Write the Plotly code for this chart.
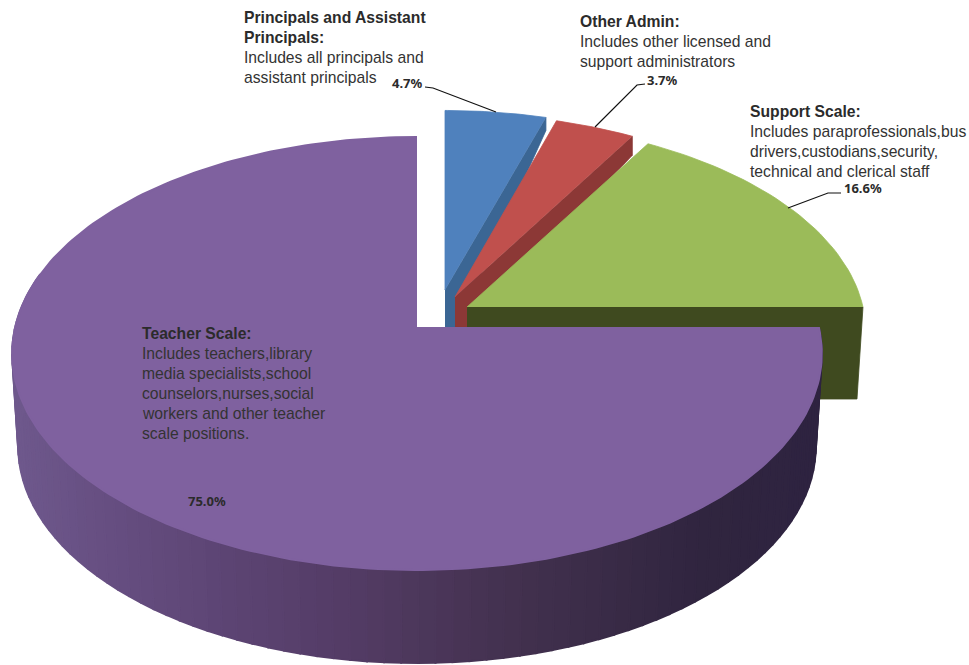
import numpy as np
import plotly.graph_objects as go

categories = ["Principals and Assistant Principals", "Other Admin", "Support Scale", "Teacher Scale"]
shares = [4.7, 3.7, 16.6, 75.0]
share_labels = ["4.7%", "3.7%", "16.6%", "75.0%"]
top_colors = ["#4f81bd", "#c0504d", "#9bbb59", "#7f619f"]
wall_colors = ["#3b6694", "#8c3836", "#3f4a1f", "#2e2440"]

# text blocks: (x, y of first line centre, bold lines, plain lines)
text_blocks = [
    (244, 17, ["Principals and Assistant", "Principals:"], ["Includes all principals and", "assistant principals"]),
    (580, 21, ["Other Admin:"], ["Includes other licensed and", "support administrators"]),
    (750, 111, ["Support Scale:"], ["Includes paraprofessionals,bus", "drivers,custodians,security,", "technical and clerical staff"]),
    (142, 333, ["Teacher Scale:"], ["Includes teachers,library", "media specialists,school", "counselors,nurses,social", "workers and other teacher", "scale positions."]),
]
label_pos = [(407, 83), (662, 80), (863, 188), (207, 501)]
leaders = [
    ([425, 433, 496], [87, 88, 112]),
    ([645, 637, 595], [84, 85, 127]),
    ([841, 828, 788], [193, 193, 208]),
]

# pie geometry (drawing parameters)
R, A_Y, K = 402.0, 213.5, 0.1178
apexes = [(445, 290), (455, 297), (467, 307), (417, 328)]
x_scales = [0.96, 0.965, 0.985, 1.0]
y_scales = [0.94, 0.96, 0.975, 1.0]
wall_outer = [13, 19, 92]
wall_to_y = [327, 327, 399]


def proj(theta_deg, sx=1.0, sy=1.0):
    t = np.radians(theta_deg)
    x, y = np.sin(t), np.cos(t)
    w = 1 + K * y
    return sx * R * x / w, sy * A_Y * y / w


def poly(fig, xs, ys, color, lw=0.8):
    fig.add_trace(go.Scatter(x=list(xs), y=list(ys), mode="lines", fill="toself", fillcolor=color,
                             line=dict(color=color, width=lw), hoverinfo="skip", showlegend=False))


fig = go.Figure()
cum = np.concatenate([[0], np.cumsum(shares)]) / sum(shares) * 360

# walls of the three pulled slices and their tops
for i in range(3):
    ax, ay = apexes[i]
    th = np.linspace(cum[i], cum[i + 1], 40)
    px, py = proj(th, x_scales[i], y_scales[i])
    ex, ey = ax + px[-1], ay - py[-1]
    if i < 2:
        nx = apexes[i + 1][0]
        poly(fig, [ax, ex, ex, nx + 2, ax], [ay, ey, ey + wall_outer[i], wall_to_y[i], wall_to_y[i]], wall_colors[i])
    else:
        poly(fig, [ax, ex, ex - 6, ax], [ay, ey, ey + wall_outer[i], wall_to_y[i]], wall_colors[i])
    poly(fig, np.r_[ax, ax + px], np.r_[ay, ay - py], top_colors[i])

# purple side with horizontal shading
ax, ay = apexes[3]
stops_x = [15, 150, 340, 500, 700, 820]
stops_rgb = np.array([[110, 88, 140], [98, 74, 124], [84, 60, 102], [68, 50, 80], [48, 37, 63], [46, 35, 64]])
edges = np.linspace(90, 285, 90)
tx, ty = proj(edges)
bx, by = proj(edges, sx=0.985)
topx, topy = ax + tx, ay - ty
botx, boty = ax + bx, ay + 93 - by
for j in range(len(edges) - 1):
    mx = (topx[j] + topx[j + 1]) / 2
    c = [int(round(np.interp(mx, stops_x, stops_rgb[:, k]))) for k in range(3)]
    poly(fig, [topx[j], topx[j + 1], botx[j + 1], botx[j], topx[j]],
         [topy[j], topy[j + 1], boty[j + 1], boty[j], topy[j]], f"rgb({c[0]},{c[1]},{c[2]})", lw=2)

# purple top
th = np.linspace(cum[3], cum[4], 240)
px, py = proj(th)
poly(fig, np.r_[ax, ax + px], np.r_[ay, ay - py], top_colors[3], lw=2)

for lx, ly in leaders:
    fig.add_trace(go.Scatter(x=lx, y=ly, mode="lines", line=dict(color="#111111", width=1.2),
                             hoverinfo="skip", showlegend=False))

annotations = []
LINE = 20
for x0, y0, bold, plain in text_blocks:
    y = y0
    for s in bold:
        annotations.append(dict(x=x0, y=y, text=f"<b>{s}</b>", font=dict(size=15.7, color="#2b2b2b",
                                family="Liberation Sans"), xanchor="left", yanchor="middle", showarrow=False, xshift=-2))
        y += LINE
    for s in plain:
        annotations.append(dict(x=x0, y=y, text=s, font=dict(size=15.7, color="#333333",
                                family="Liberation Sans"), xanchor="left", yanchor="middle", showarrow=False, xshift=-2))
        y += LINE
for (x0, y0), s in zip(label_pos, share_labels):
    annotations.append(dict(x=x0, y=y0, text=f"<b>{s}</b>", font=dict(size=13, color="#2b2b2b", family="Noto Sans"),
                            xanchor="center", yanchor="middle", showarrow=False))

fig.update_layout(
    width=969, height=665, autosize=False, margin=dict(l=0, r=0, t=0, b=0),
    paper_bgcolor="white", plot_bgcolor="white", showlegend=False, annotations=annotations,
    xaxis=dict(range=[0, 969], visible=False, fixedrange=True),
    yaxis=dict(range=[665, 0], visible=False, fixedrange=True),
)
fig.write_html("out.html", config={"displayModeBar": False},
               post_script="document.body.style.margin='0';document.body.style.overflow='hidden';")
